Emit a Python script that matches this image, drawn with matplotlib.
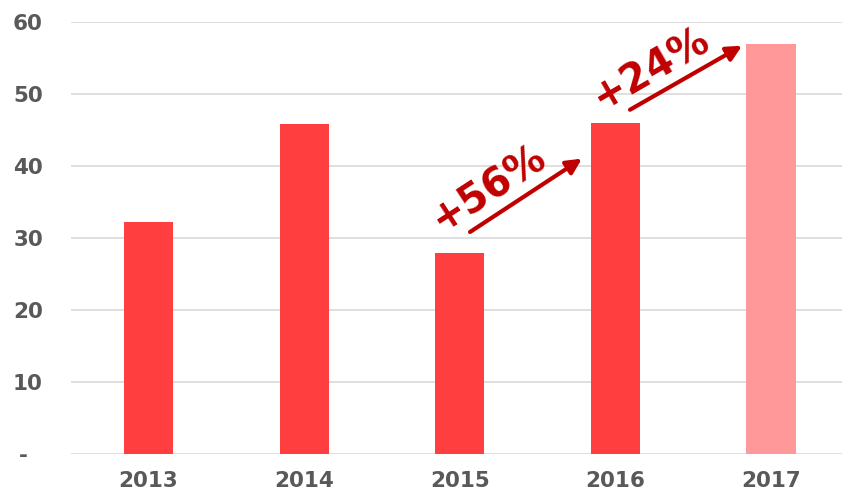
import matplotlib
matplotlib.use("Agg")
import matplotlib.pyplot as plt

years = ["2013", "2014", "2015", "2016", "2017"]
values = [32.2, 45.8, 27.9, 45.9, 57.0]
bar_colors = ["#FF3F3F", "#FF3F3F", "#FF3F3F", "#FF3F3F", "#FF9999"]
yticks = [0, 10, 20, 30, 40, 50, 60]
ytick_labels = ["-  ", "10", "20", "30", "40", "50", "60"]

growth_labels = ["+56%", "+24%"]
# arrow start/end positions (data coords) and text anchors
arrow_starts = [(2.066, 30.8), (3.094, 47.8)]
arrow_ends = [(2.785, 41.0), (3.814, 56.7)]
text_anchors = [(1.88, 30.7), (2.91, 47.7)]
text_angles = [33, 30]

plt.rcParams['font.family'] = ['DejaVu Sans']
fig = plt.figure(figsize=(8.42, 4.96), dpi=100)
ax = fig.add_axes([70.7 / 842, (496 - 453.5) / 496, 778.1 / 842, (453.5 - 22) / 496])

x = list(range(len(years)))
ax.bar(x, values, width=0.315, color=bar_colors, zorder=3)

ax.set_xlim(-0.5, 4.5)
ax.set_ylim(0, 60)
ax.set_yticks(yticks)
ax.set_yticklabels(ytick_labels)
ax.set_xticks(x)
ax.set_xticklabels(years)
ax.yaxis.grid(True, color="#D9D9D9", linewidth=1.2, zorder=0)
ax.set_axisbelow(True)
for s in ax.spines.values():
    s.set_visible(False)
ax.tick_params(axis="both", length=0, colors="#595959", labelsize=15.5)
ax.tick_params(axis="y", pad=20)
ax.tick_params(axis="x", pad=12.5)
for lbl in ax.get_xticklabels() + ax.get_yticklabels():
    lbl.set_fontweight("heavy")

for lab, s, e, ta, ang in zip(growth_labels, arrow_starts, arrow_ends, text_anchors, text_angles):
    ax.annotate("", xy=e, xytext=s,
                arrowprops=dict(arrowstyle="-|>,head_length=0.9,head_width=0.45",
                                color="#C00000", lw=3, shrinkA=0, shrinkB=0),
                zorder=5)
    ax.text(ta[0], ta[1], lab, rotation=ang, rotation_mode="anchor",
            ha="left", va="baseline", fontsize=28.5, fontweight="heavy",
            color="#C00000", zorder=5)

fig.savefig("out.png", dpi=100)
